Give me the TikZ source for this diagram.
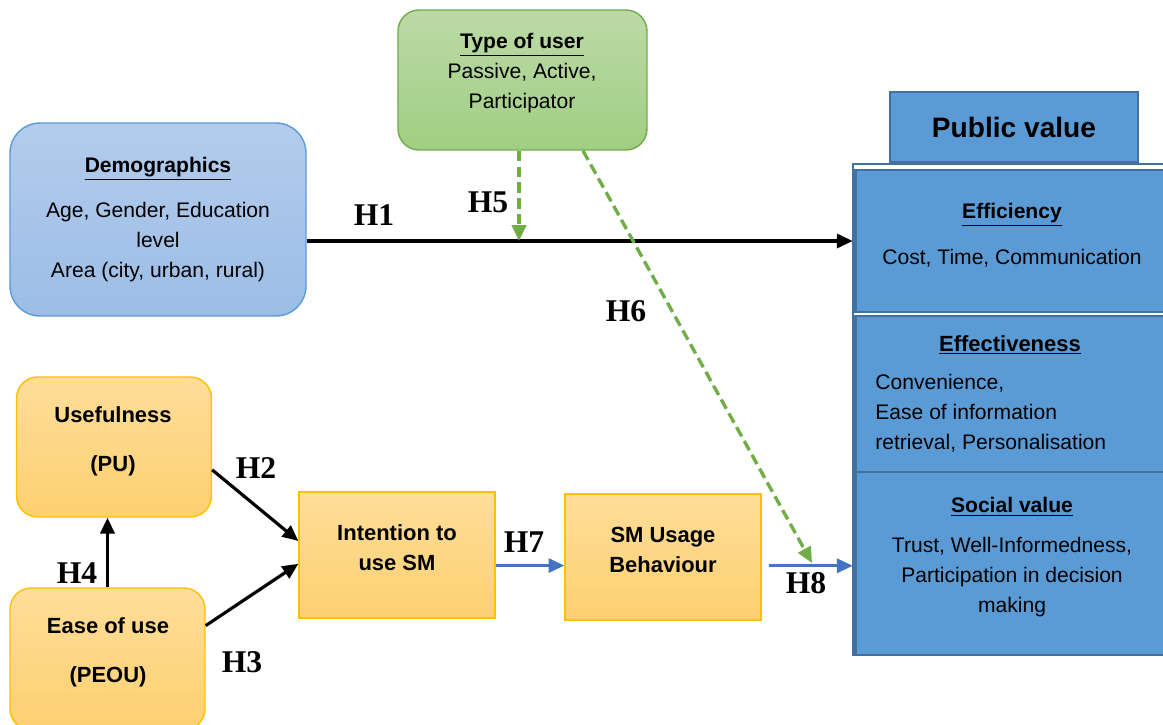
\documentclass[tikz,border=0pt]{standalone}
\usepackage{fontspec}
\setmainfont{Liberation Sans}
\newfontfamily\hypfont{Liberation Serif}
\usetikzlibrary{
    arrows.meta,
    positioning,
    shapes.geometric
}
\definecolor{demoTop}{RGB}{180, 204, 236}
\definecolor{demoBottom}{RGB}{155, 189, 230}
\definecolor{demoLine}{RGB}{91, 155, 213}
\definecolor{greenTop}{RGB}{188, 218, 168}
\definecolor{greenBottom}{RGB}{160, 206, 130}
\definecolor{greenLine}{RGB}{112, 173, 71}
\definecolor{orangeTop}{RGB}{255, 222, 154}
\definecolor{orangeBottom}{RGB}{253, 208, 112}
\definecolor{orangeLine}{RGB}{255, 192, 0}
\definecolor{valueFill}{RGB}{91, 155, 213}
\definecolor{valueLine}{RGB}{65, 113, 156}
\definecolor{arrowBlue}{RGB}{68, 114, 196}
\definecolor{arrowGreen}{RGB}{112, 173, 71}
\tikzset{
    roundBox/.style={
        rectangle,
        rounded corners=12pt,
        line width=0.8pt,
        inner sep=0pt
    },
    demoBox/.style={
        roundBox,
        rounded corners=17pt,
        draw=demoLine,
        top color=demoTop,
        bottom color=demoBottom,
        minimum width=5.92cm,
        minimum height=3.86cm
    },
    userBox/.style={
        roundBox,
        draw=greenLine,
        top color=greenTop,
        bottom color=greenBottom,
        minimum width=4.98cm,
        minimum height=2.8cm
    },
    tamBox/.style={
        roundBox,
        draw=orangeLine,
        top color=orangeTop,
        bottom color=orangeBottom,
        minimum width=3.9cm,
        minimum height=2.8cm
    },
    flowBox/.style={
        rectangle,
        line width=0.8pt,
        draw=orangeLine,
        top color=orangeTop,
        bottom color=orangeBottom,
        minimum width=3.92cm,
        minimum height=2.52cm
    },
    valueBox/.style={
        rectangle,
        draw=valueLine,
        fill=valueFill,
        line width=1.2pt,
        minimum width=6.5cm,
        inner sep=0pt
    },
    bodyText/.style={
        font=\fontsize{12}{17}\selectfont,
        align=center,
        inner sep=0pt
    },
    titleText/.style={
        font=\bfseries\fontsize{12.5}{17}\selectfont,
        align=center,
        inner sep=0pt
    },
    hypLabel/.style={
        font=\hypfont\bfseries\fontsize{18}{20}\selectfont,
        inner sep=0pt
    },
    blackArrow/.style={
        line width=1.8pt,
        -{Triangle[length=9pt,width=8pt]}
    },
    blueArrow/.style={
        blackArrow,
        draw=arrowBlue,
        color=arrowBlue
    },
    greenArrow/.style={
        blackArrow,
        line width=1.9pt,
        draw=arrowGreen,
        color=arrowGreen,
        dash pattern=on 6pt off 3pt
    }
}

\begin{document}
\begin{tikzpicture}[x=0.02cm, y=-0.02cm]
    \useasboundingbox (0,0) rectangle (1163,724);
    \fill[white] (0,0) rectangle (1163,724);

    % Moderators
    \node[userBox] (usertype) at (522.5,80) {};
    \node[bodyText] (usertypeText) at (522,73) {\underline{\textbf{Type of user}}\\Passive, Active,\\Participator};

    \node[demoBox, bodyText] (demo) at (158,219.5) {\underline{\textbf{Demographics}}\\[9pt]Age, Gender, Education\\level\\Area (city, urban, rural)};

    % Public value column
    \node[valueBox, minimum width=4.96cm, minimum height=1.4cm, font=\bfseries\fontsize{16}{19}\selectfont] (pubvalue) at (1014,127) {Public value};
    \draw[valueLine, line width=1.2pt, fill=white] (853,164) rectangle (1180,655);
    \node[valueBox, minimum height=2.84cm] (efficiency) at (1018,241) {};
    \node[valueBox, minimum height=3.12cm] (effectiveness) at (1018,394) {};
    \node[valueBox, minimum height=3.66cm] (social) at (1018,563.5) {};

    \node[bodyText] (efficiencyText) at (1012,235) {\underline{\textbf{Efficiency}}\\[9pt]Cost, Time, Communication};
    \node[titleText] (effectivenessTitle) at (1010,345) {\underline{Effectiveness}};
    \node[bodyText, align=left, anchor=west] (effectivenessText) at (875,413) {Convenience,\\Ease of information\\retrieval, Personalisation};
    \node[bodyText] (socialText) at (1012,557) {\underline{\textbf{Social value}}\\[6pt]Trust, Well-Informedness,\\Participation in decision\\making};

    % TAM constructs
    \node[tamBox] (usefulness) at (114,447) {};
    \node[titleText] (usefulnessText) at (113,441) {Usefulness\\[11pt](PU)};
    \node[tamBox, minimum height=2.84cm] (ease) at (107.5,659) {};
    \node[titleText] (easeText) at (108,652) {Ease of use\\[11pt](PEOU)};

    \node[flowBox] (intention) at (397,555) {};
    \node[titleText] (intentionText) at (397,548) {Intention to\\use SM};
    \node[flowBox] (smusage) at (663,557) {};
    \node[titleText] (smusageText) at (663,550) {SM Usage\\Behaviour};

    % Free ends
    \coordinate (h5end) at (519,241);
    \coordinate (h6end) at (812,563);

    % Paths
    \draw[blackArrow] (demo.east |- efficiency.west) -- ([xshift=-1pt]efficiency.west);
    \draw[greenArrow] (usertype.south -| h5end) -- (h5end);
    \draw[greenArrow] ([xshift=1.21cm]usertype.south) -- (h6end);
    \draw[blackArrow] ([yshift=-13pt]usefulness.east) -- ([yshift=8pt]intention.west);
    \draw[blackArrow] ([yshift=19pt]ease.east) -- ([yshift=-5pt]intention.west);
    \draw[blackArrow] (ease.north) -- (ease.north |- usefulness.south);
    \draw[blueArrow] ([yshift=-6pt]intention.east) -- ([yshift=-6pt]intention.east -| smusage.west);
    \draw[blueArrow] ([xshift=4pt,yshift=-5pt]smusage.east) -- ([xshift=-1pt,yshift=-5pt]smusage.east -| social.west);

    % Hypothesis labels
    \node[hypLabel] (h1) at (374,215) {H1};
    \node[hypLabel] (h2) at (256,468) {H2};
    \node[hypLabel] (h3) at (242,662) {H3};
    \node[hypLabel] (h4) at (77,573) {H4};
    \node[hypLabel] (h5) at (488,202) {H5};
    \node[hypLabel] (h6) at (626,311) {H6};
    \node[hypLabel] (h7) at (524,542) {H7};
    \node[hypLabel] (h8) at (806,583) {H8};
\end{tikzpicture}
\end{document}
